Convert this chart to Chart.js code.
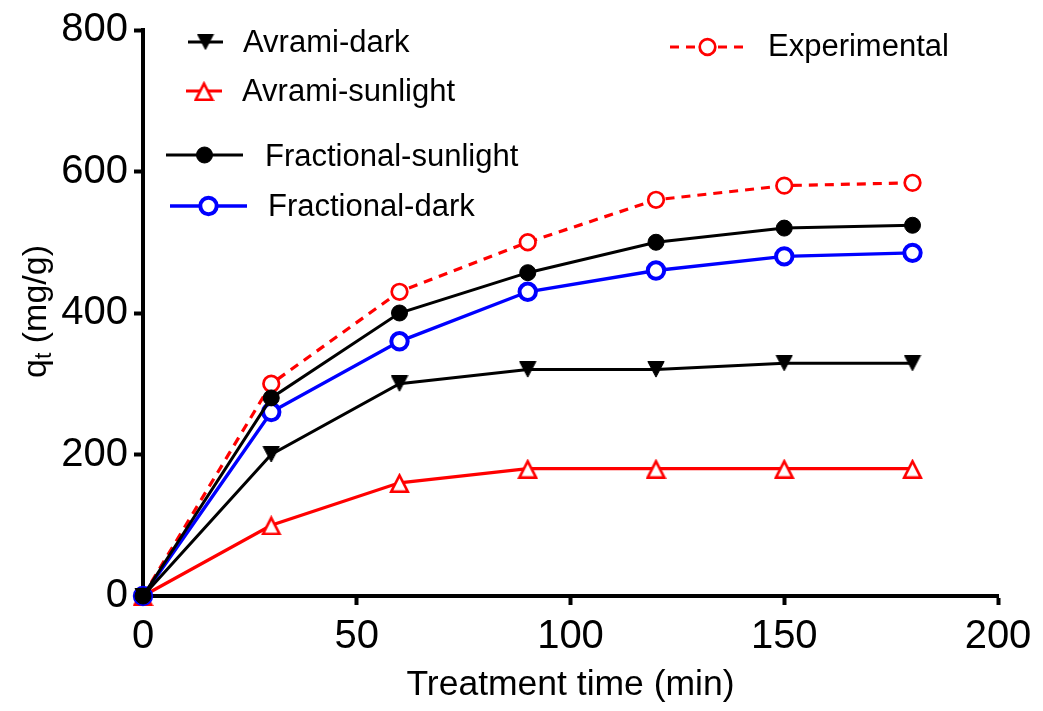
<!DOCTYPE html>
<html>
<head>
<meta charset="utf-8">
<script src="https://cdn.jsdelivr.net/npm/chart.js@4/dist/chart.umd.min.js"></script>
<style>
  html, body { margin: 0; padding: 0; background: #fff; }
  canvas { display: block; }
</style>
</head>
<body>
<canvas id="chart" width="1043" height="711"></canvas>
<script>
// Treatment time (min)
const times = [0, 30, 60, 90, 120, 150, 180];

// Adsorption capacity q_t (mg/g) for each series
const experimental       = [0, 300, 430, 500, 560, 580, 584];
const fractionalSunlight = [0, 280, 400, 457, 500, 520, 524];
const fractionalDark     = [0, 260, 360, 430, 460, 480, 485];
const avramiDark         = [0, 200, 300, 320, 320, 329, 329];
const avramiSunlight     = [0, 100, 160, 180, 180, 180, 180];

// Axis ticks and titles
const xTicks = [0, 50, 100, 150, 200];
const yTicks = [0, 200, 400, 600, 800];
const xTitle = 'Treatment time (min)';
const yTitleMain = 'q';
const yTitleSub = 't';
const yTitleRest = ' (mg/g)';

const FONT = '"Liberation Sans", Arial, Helvetica, sans-serif';
const RED = '#ff0000', BLUE = '#0000ff', BLACK = '#000000';

const toPoints = vals => times.map((t, i) => ({ x: t, y: vals[i] }));

// Triangle markers drawn into small canvases so they sit centred on their box
function triangleMarker(w, h, down, fill, stroke, lw) {
  const c = document.createElement('canvas');
  c.width = w; c.height = h;
  const g = c.getContext('2d');
  g.lineJoin = 'miter';
  g.lineWidth = lw;
  const sx = 0.866 * lw;
  g.beginPath();
  if (down) {
    g.moveTo(sx, lw / 2);
    g.lineTo(w - sx, lw / 2);
    g.lineTo(w / 2, h - lw);
  } else {
    g.moveTo(w / 2, lw);
    g.lineTo(w - sx, h - lw / 2);
    g.lineTo(sx, h - lw / 2);
  }
  g.closePath();
  g.fillStyle = fill;
  g.fill();
  g.strokeStyle = stroke;
  g.stroke();
  return c;
}
const downTriangle = triangleMarker(18, 17, true, BLACK, BLACK, 1);
const upTriangle = triangleMarker(21, 20, false, '#ffffff', RED, 2.6);

// Placement of each legend entry: line segment x1..x2 at y, text at (tx, ty)
const legendLayout = {
  'Avrami-dark':         { x1: 188, x2: 223, y: 42,  tx: 243, ty: 43 },
  'Avrami-sunlight':     { x1: 186, x2: 222, y: 91,  tx: 242, ty: 92 },
  'Fractional-sunlight': { x1: 166, x2: 243, y: 155, tx: 265, ty: 157 },
  'Fractional-dark':     { x1: 170, x2: 247, y: 206, tx: 268, ty: 207 },
  'Experimental':        { x1: 670, x2: 745, y: 47,  tx: 768, ty: 47 }
};

const datasets = [
  {
    label: 'Fractional-sunlight', data: toPoints(fractionalSunlight), order: 0,
    borderColor: BLACK, borderWidth: 3,
    pointStyle: 'circle', pointRadius: 8, pointBorderWidth: 1,
    pointBackgroundColor: BLACK, pointBorderColor: BLACK
  },
  {
    label: 'Avrami-dark', data: toPoints(avramiDark), order: 1,
    borderColor: BLACK, borderWidth: 3,
    pointStyle: downTriangle, pointRadius: 9, pointBorderWidth: 0,
    pointBackgroundColor: BLACK, pointBorderColor: BLACK
  },
  {
    label: 'Fractional-dark', data: toPoints(fractionalDark), order: 2,
    borderColor: BLUE, borderWidth: 3.4,
    pointStyle: 'circle', pointRadius: 8.2, pointBorderWidth: 4,
    pointBackgroundColor: '#ffffff', pointBorderColor: BLUE
  },
  {
    label: 'Avrami-sunlight', data: toPoints(avramiSunlight), order: 3,
    borderColor: RED, borderWidth: 3.2,
    pointStyle: upTriangle, pointRadius: 10, pointBorderWidth: 0,
    pointBackgroundColor: '#ffffff', pointBorderColor: RED
  },
  {
    label: 'Experimental', data: toPoints(experimental), order: 4,
    borderColor: RED, borderWidth: 3.2, borderDash: [9, 7],
    pointStyle: 'circle', pointRadius: 7.8, pointBorderWidth: 2.7,
    pointBackgroundColor: '#ffffff', pointBorderColor: RED
  }
].map(d => Object.assign({ tension: 0, fill: false, clip: false, showLine: true }, d));

// Draws the free-standing legend and the rotated y-axis title with subscript
const overlay = {
  id: 'overlay',
  afterDraw(chart) {
    const ctx = chart.ctx;
    chart.data.datasets.forEach(ds => {
      const L = legendLayout[ds.label];
      if (!L) return;
      ctx.save();
      ctx.strokeStyle = ds.borderColor;
      ctx.lineWidth = ds.borderWidth;
      ctx.setLineDash(ds.borderDash || []);
      ctx.beginPath();
      ctx.moveTo(L.x1, L.y);
      ctx.lineTo(L.x2, L.y);
      ctx.stroke();
      ctx.setLineDash([]);
      ctx.fillStyle = ds.pointBackgroundColor;
      ctx.strokeStyle = ds.pointBorderColor;
      ctx.lineWidth = ds.pointBorderWidth;
      Chart.helpers.drawPoint(ctx, {
        pointStyle: ds.pointStyle,
        rotation: 0,
        radius: ds.pointRadius,
        borderWidth: ds.pointBorderWidth
      }, (L.x1 + L.x2) / 2, L.y);
      ctx.fillStyle = BLACK;
      ctx.font = '31px ' + FONT;
      ctx.textAlign = 'left';
      ctx.textBaseline = 'middle';
      ctx.fillText(ds.label, L.tx, L.ty);
      ctx.restore();
    });

    // y-axis title: q_t (mg/g), reading bottom to top
    ctx.save();
    ctx.translate(46, 378);
    ctx.rotate(-Math.PI / 2);
    ctx.fillStyle = BLACK;
    ctx.textAlign = 'left';
    ctx.textBaseline = 'alphabetic';
    let x = 0;
    ctx.font = '34px ' + FONT;
    ctx.fillText(yTitleMain, x, 0);
    x += ctx.measureText(yTitleMain).width;
    ctx.font = '23px ' + FONT;
    ctx.fillText(yTitleSub, x, 5);
    x += ctx.measureText(yTitleSub).width;
    ctx.font = '34px ' + FONT;
    ctx.fillText(yTitleRest, x, 0);
    ctx.restore();
  }
};

new Chart(document.getElementById('chart'), {
  type: 'line',
  data: { datasets },
  options: {
    responsive: false,
    animation: false,
    devicePixelRatio: 1,
    layout: { padding: { left: 0, right: 45, top: 26, bottom: 0 } },
    plugins: { legend: { display: false }, tooltip: { enabled: false } },
    scales: {
      x: {
        type: 'linear', min: 0, max: 200,
        afterBuildTicks: s => { s.ticks = xTicks.map(v => ({ value: v })); },
        afterFit: s => { s.height = 115; },
        grid: { display: true, drawOnChartArea: false, drawTicks: true, tickLength: 9, tickWidth: 4, tickColor: BLACK },
        border: { display: true, color: BLACK, width: 4 },
        ticks: { color: BLACK, font: { size: 40, family: FONT }, padding: 8, maxRotation: 0, autoSkip: false },
        title: { display: true, text: xTitle, color: BLACK, font: { size: 35.5, family: FONT }, padding: { top: 0, bottom: 4 } }
      },
      y: {
        type: 'linear', min: 0, max: 800,
        afterBuildTicks: s => { s.ticks = yTicks.map(v => ({ value: v })); },
        afterFit: s => { s.width = 143; },
        grid: { display: true, drawOnChartArea: false, drawTicks: true, tickLength: 9, tickWidth: 4, tickColor: BLACK },
        border: { display: true, color: BLACK, width: 4 },
        ticks: { color: BLACK, font: { size: 40, family: FONT }, padding: 6, autoSkip: false }
      }
    }
  },
  plugins: [overlay]
});
</script>
</body>
</html>
